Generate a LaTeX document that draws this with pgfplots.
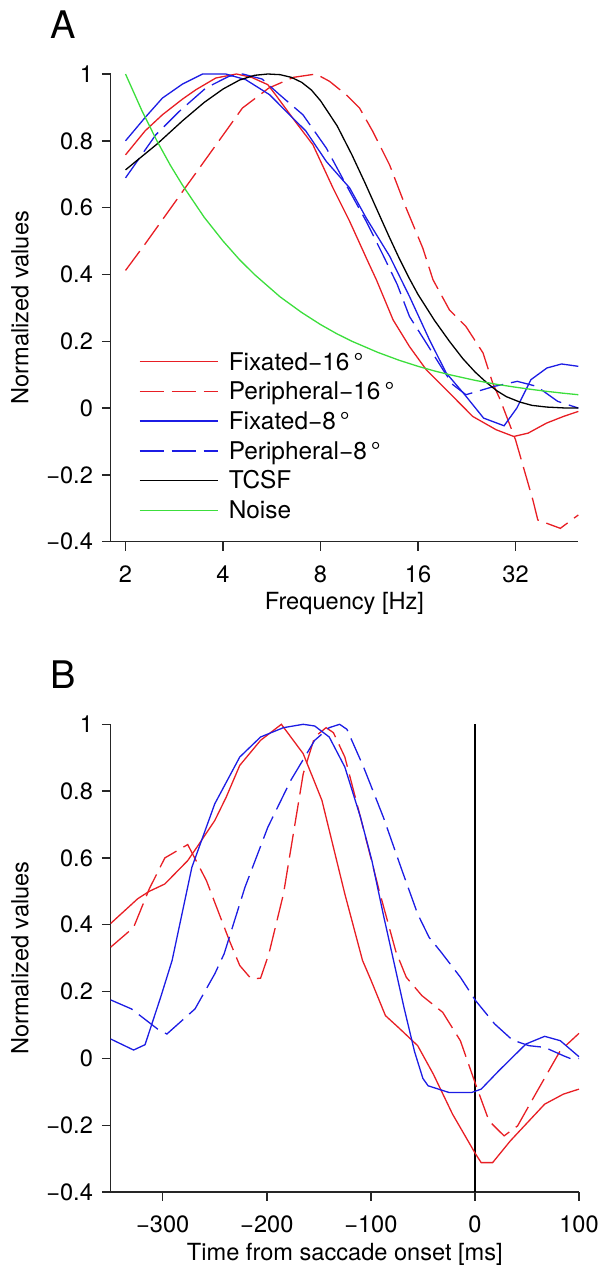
\documentclass[border=0pt]{standalone}
\usepackage{fontspec}
\setmainfont{TeX Gyre Heros}
\usepackage{pgfplots}
\pgfplotsset{compat=1.18}

\definecolor{cred}{RGB}{232,30,36}
\definecolor{cblue}{RGB}{28,28,228}
\definecolor{cgreen}{RGB}{60,222,60}

\tikzset{
  dashed16/.style={dash pattern=on 12pt off 4pt},
  legtext/.style={anchor=west, inner sep=0pt, text height=8.35pt, text depth=0pt, text=black},
}

\pgfplotsset{
  panel/.style={
    scale only axis,
    axis x line*=bottom, axis y line*=left,
    axis line style={line width=0.7pt, black!85},
    tick align=outside, major tick length=4.4pt,
    tick style={line width=0.7pt, black!85},
    ymin=-0.4, ymax=1,
    ytick={-0.4,-0.2,0,0.2,0.4,0.6,0.8,1},
    yticklabels={−0.4,−0.2,0,0.2,0.4,0.6,0.8,1},
    yticklabel style={anchor=east, inner sep=0pt, xshift=-4.3pt},
    xticklabel style={anchor=north, inner sep=0pt, yshift=-7.2pt},
    clip=false, no marks,
    every axis plot/.append style={line width=0.65pt},
    ylabel={Normalized values},
    ylabel style={at={(axis description cs:-0.194,0.5)}, anchor=center, inner sep=0pt},
    xlabel style={at={(axis description cs:0.5,-0.133)}, anchor=center, inner sep=0pt},
  },
}

\begin{document}
\fontsize{11.8}{14}\selectfont
\begin{tikzpicture}
\useasboundingbox (0pt,0pt) rectangle (300.5pt,-633.5pt);

% Panel A: frequency tuning
\begin{axis}[panel,
  at={(55.35pt,-270.85pt)}, anchor=south west,
  width=233.8pt, height=233.85pt,
  xmode=log, log basis x=2, xmin=1.8, xmax=50,
  xtick={2,4,8,16,32}, xticklabels={2,4,8,16,32},
  xlabel={Frequency [Hz]},
]
\addplot[cred] coordinates {
  (2,0.758) (2.3,0.83) (2.6,0.878) (3,0.925) (3.3,0.953) (3.8,0.988)
  (4.4,1.0) (4.9,0.99) (5.5,0.968) (5.84,0.935) (6.6,0.865) (7.58,0.788)
  (8.74,0.659) (9.84,0.559) (11.2,0.439) (11.9,0.384) (13.4,0.264)
  (15.06,0.184) (16.96,0.115) (19.55,0.055) (23.6,-0.025) (27.9,-0.065)
  (31.6,-0.085) (35,-0.075) (39.9,-0.045) (45,-0.025) (50,-0.01)
};
\addplot[cred, dashed16] coordinates {
  (2,0.412) (2.31,0.494) (3.03,0.654) (4,0.817) (4.59,0.898) (5.54,0.958)
  (6.6,0.99) (7.75,1.0) (8.53,0.978) (9.6,0.938) (10.56,0.898) (11.6,0.828)
  (13.07,0.728) (14.7,0.599) (16.55,0.479) (17.8,0.384) (20,0.294)
  (22.5,0.244) (25.4,0.165) (27.2,0.075) (28.7,0.025) (32,-0.095)
  (36.2,-0.275) (37.5,-0.335) (44,-0.36) (50,-0.32)
};
\addplot[cblue] coordinates {
  (2,0.80) (2.3,0.87) (2.6,0.928) (3,0.97) (3.46,1.0) (4.08,1.0) (4.7,0.983)
  (5.57,0.938) (6.57,0.868) (7.2,0.83) (8.34,0.738) (9.84,0.659)
  (11.07,0.569) (13.07,0.455) (15.06,0.334) (17.36,0.204) (19.55,0.105)
  (22.3,0.04) (25.5,-0.03) (29.5,-0.053) (32.3,0.0) (35.7,0.085) (40,0.12)
  (44.4,0.132) (50,0.125)
};
\addplot[cblue, dashed16] coordinates {
  (2,0.689) (2.48,0.818) (2.93,0.888) (3.54,0.958) (4.17,0.993) (4.6,1.0)
  (5.28,0.985) (5.98,0.938) (7.06,0.878) (8.34,0.778) (9.6,0.668)
  (11.07,0.559) (12.46,0.459) (13.8,0.37) (15.06,0.274) (16.96,0.195)
  (19.1,0.115) (20.5,0.07) (22.5,0.04) (27.5,0.065) (32.4,0.08)
  (37.2,0.065) (43.2,0.02) (50,0.0)
};
\addplot[black] coordinates {
  (2,0.713) (2.5,0.79) (3,0.86) (3.5,0.915) (4,0.955) (4.5,0.982) (5,0.996)
  (5.5,1.0) (6,0.998) (6.5,0.99) (7,0.975) (7.5,0.952) (8,0.92) (9,0.845)
  (10,0.758) (11,0.672) (12,0.59) (13,0.515) (14,0.448) (15,0.39) (16,0.34)
  (18,0.262) (20,0.2) (22,0.148) (24,0.108) (26,0.077) (28,0.052)
  (30,0.034) (33,0.018) (36,0.008) (40,0.003) (45,0.0005) (50,0)
};
\addplot[cgreen] coordinates {
  (2,1.0) (2.25,0.889) (2.5,0.8) (2.75,0.727) (3,0.667) (3.5,0.571) (4,0.5)
  (4.5,0.444) (5,0.4) (6,0.333) (7,0.286) (8,0.25) (9,0.222) (10,0.2)
  (12,0.167) (14,0.143) (16,0.125) (18,0.111) (20,0.1) (24,0.083)
  (28,0.071) (32,0.0625) (36,0.0556) (40,0.05) (45,0.0444) (50,0.04)
};
\coordinate (legL) at (axis description cs:0.0616,0.3849);
\coordinate (legT) at (axis description cs:0.2517,0.3849);
\node[font=\fontsize{19}{20}\selectfont, inner sep=0pt, anchor=center]
  at (axis description cs:-0.1014,1.1065) {A};
\end{axis}

% legend of panel A, drawn by hand: lines first, then texts
\begin{scope}[line width=0.7pt]
\draw[cred] (legL) -- ++(39.25pt,0pt);
\draw[cred, dashed16] ([yshift=-14.86pt]legL) -- ++(39.25pt,0pt);
\draw[cblue] ([yshift=-29.72pt]legL) -- ++(39.25pt,0pt);
\draw[cblue, dashed16] ([yshift=-44.58pt]legL) -- ++(39.25pt,0pt);
\draw[black] ([yshift=-59.44pt]legL) -- ++(39.25pt,0pt);
\draw[cgreen] ([yshift=-74.3pt]legL) -- ++(39.25pt,0pt);
\end{scope}
\begin{scope}[font=\fontsize{12.2}{14}\selectfont]
\node[legtext] at (legT) {Fixated−16\,°};
\node[legtext] at ([yshift=-14.86pt]legT) {Peripheral−16\,°};
\node[legtext] at ([yshift=-29.72pt]legT) {Fixated−8\,°};
\node[legtext] at ([yshift=-44.58pt]legT) {Peripheral−8\,°};
\node[legtext] at ([yshift=-59.44pt]legT) {TCSF};
\node[legtext] at ([yshift=-74.3pt]legT) {Noise};
\end{scope}

% Panel B: time course around saccade onset
\begin{axis}[panel,
  at={(55.35pt,-596pt)}, anchor=south west,
  width=234.15pt, height=233.85pt,
  xmin=-350, xmax=100,
  xtick={-300,-200,-100,0,100}, xticklabels={−300,−200,−100,0,100},
  xlabel={Time from saccade onset [ms]},
]
\addplot[black, line width=0.7pt] coordinates {(0,-0.4) (0,1)};
\addplot[cred] coordinates {
  (-350,0.404) (-324,0.478) (-313,0.5) (-298,0.522) (-276,0.592)
  (-265,0.642) (-250,0.712) (-239,0.782) (-226,0.877) (-206,0.952)
  (-186,1.0) (-165,0.912) (-147,0.772) (-125,0.492) (-108,0.293)
  (-100,0.235) (-86,0.128) (-73,0.091) (-55,0.038) (-40,-0.047)
  (-21.5,-0.167) (0.6,-0.286) (6,-0.312) (17,-0.312) (34,-0.247)
  (52,-0.187) (67,-0.137) (85,-0.107) (100,-0.092)
};
\addplot[cred, dashed16] coordinates {
  (-350,0.333) (-328,0.392) (-313,0.507) (-298,0.6) (-276,0.64)
  (-258,0.532) (-236,0.353) (-226,0.278) (-215,0.238) (-206,0.24)
  (-198,0.313) (-184,0.492) (-165,0.852) (-154,0.962) (-143,0.99)
  (-136,0.975) (-125,0.902) (-110,0.722) (-92,0.502) (-76,0.32)
  (-66,0.243) (-51,0.188) (-31,0.138) (-14,0.053) (0.6,-0.077)
  (13.5,-0.187) (28,-0.232) (41,-0.202) (60,-0.097) (82,0.023) (100,0.075)
};
\addplot[cblue] coordinates {
  (-350,0.058) (-328,0.025) (-317,0.041) (-302,0.183) (-291,0.293)
  (-272,0.572) (-250,0.762) (-226,0.902) (-206,0.962) (-184,0.99)
  (-165,1.0) (-154,0.995) (-140,0.962) (-125,0.872) (-110,0.722)
  (-99,0.592) (-88,0.43) (-78,0.29) (-68,0.15) (-58,0.02) (-50,-0.06)
  (-45,-0.082) (-25,-0.102) (-3,-0.102) (6,-0.092) (23,-0.037)
  (49,0.043) (67,0.066) (82,0.053) (100,0.005)
};
\addplot[cblue, dashed16] coordinates {
  (-350,0.175) (-330,0.148) (-305,0.088) (-296,0.073) (-269,0.148)
  (-250,0.253) (-241,0.313) (-221,0.512) (-199,0.692) (-177,0.832)
  (-154,0.952) (-140,0.99) (-130,1.0) (-123,0.985) (-107,0.872)
  (-88,0.722) (-70,0.562) (-55,0.432) (-44,0.362) (-33,0.32) (-14,0.243)
  (0.6,0.173) (19,0.103) (36,0.055) (52,0.038) (67,0.033) (85,0.008)
  (93,-0.002) (100,0.0)
};
\node[font=\fontsize{19}{20}\selectfont, inner sep=0pt, anchor=center]
  at (axis description cs:-0.1012,1.107) {B};
\end{axis}
\end{tikzpicture}
\end{document}
